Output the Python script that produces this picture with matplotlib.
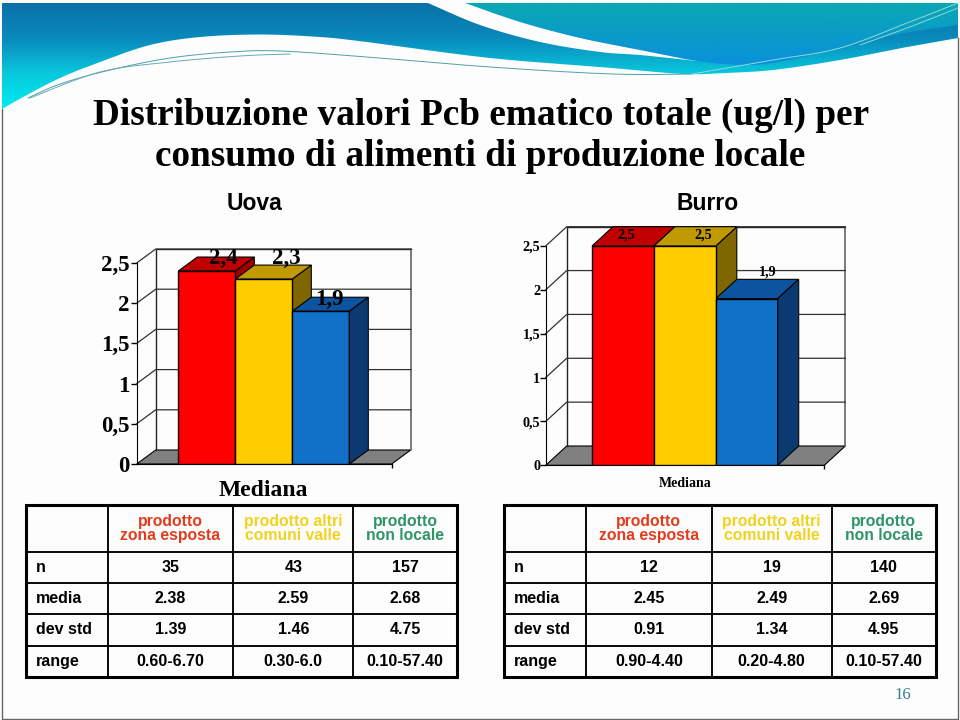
"""
Pcb ematico slide: two fake-3D bar charts with their tables under a swoosh header
"""

import numpy as np
from matplotlib import pyplot as plt
from matplotlib.patches import Polygon, PathPatch, Rectangle
from matplotlib.path import Path
from matplotlib.colors import LinearSegmentedColormap

W, H = 960, 720

series_names = ["prodotto\nzona esposta", "prodotto altri\ncomuni valle", "prodotto\nnon locale"]
row_names = ["n", "media", "dev std", "range"]
y_ticks = [0, 0.5, 1, 1.5, 2, 2.5]
y_tick_labels = ["0", "0,5", "1", "1,5", "2", "2,5"]

uova_values = [2.4, 2.3, 1.9]
uova_labels = ["2,4", "2,3", "1,9"]
uova_n = ["35", "43", "157"]
uova_media = ["2.38", "2.59", "2.68"]
uova_dev = ["1.39", "1.46", "4.75"]
uova_range = ["0.60-6.70", "0.30-6.0", "0.10-57.40"]

burro_values = [2.5, 2.5, 1.9]
burro_labels = ["2,5", "2,5", "1,9"]
burro_n = ["12", "19", "140"]
burro_media = ["2.45", "2.49", "2.69"]
burro_dev = ["0.91", "1.34", "4.95"]
burro_range = ["0.90-4.40", "0.20-4.80", "0.10-57.40"]

front_colors = ["#ff0000", "#ffcc00", "#1170c8"]
top_colors = ["#c00000", "#c09a00", "#0d54a0"]
side_colors = ["#a00000", "#806600", "#0b3a70"]
header_colors = ["#e23c1c", "#f2d21e", "#2f9468"]


def px_axes(fig, left, top, right, bottom, **kw):
    return fig.add_axes([left / W, 1 - bottom / H, (right - left) / W, (bottom - top) / H], **kw)


def smooth(points, n=24):
    # catmull-rom through the outline points, header decoration only
    pts = np.array([points[0]] + list(points) + [points[-1]], dtype=float)
    out = []
    for i in range(1, len(pts) - 2):
        p0, p1, p2, p3 = pts[i - 1], pts[i], pts[i + 1], pts[i + 2]
        for t in np.linspace(0, 1, n, endpoint=False):
            out.append(0.5 * (2 * p1 + (p2 - p0) * t + (2 * p0 - 5 * p1 + 4 * p2 - p3) * t ** 2
                              + (3 * p1 - p0 - 3 * p2 + p3) * t ** 3))
    out.append(pts[-2])
    return np.array(out)


def gradient_shape(ax, outline, colors, y_top, y_bottom):
    cmap = LinearSegmentedColormap.from_list("g", colors)
    grad = np.linspace(0, 1, 256)[:, None]
    im = ax.imshow(grad, cmap=cmap, aspect="auto", extent=(0, W, y_bottom, y_top), origin="upper")
    patch = PathPatch(Path(np.vstack([outline, outline[:1]])), fc="none", ec="none", transform=ax.transData)
    ax.add_patch(patch)
    im.set_clip_path(patch)


def draw_background(ax):
    lower = smooth([(2, 109), (25, 96), (60, 78), (100, 62), (150, 45), (200, 37), (260, 34.5), (320, 37),
                    (367, 42), (490, 58), (612, 68), (683, 74), (723, 73), (773, 70), (840, 60),
                    (907, 47), (958, 38)])
    upper_left = smooth([(428, 3), (480, 25), (540, 42), (600, 52), (640, 55), (697, 61)])
    left = np.vstack([[(2, 3)], upper_left, [(958, 3)], lower[::-1]])
    gradient_shape(ax, left, ["#0a70a8", "#0a8abc", "#08c8dc", "#00ecf2"], 3, 109)

    right_edge = smooth([(465, 3), (520, 22), (580, 38), (640, 50), (697, 61), (747, 65), (790, 60),
                         (857, 43), (910, 32), (958, 25)])
    right = np.vstack([right_edge, [(958, 3)]])
    gradient_shape(ax, right, ["#0aa8b4", "#0a9cc8", "#0a90dc"], 3, 65)

    for pts, col in (([(28, 98), (60, 84), (110, 70), (170, 58), (230, 52), (280, 51), (367, 57), (490, 67),
                       (612, 74), (692, 74)], "#4f9fa8"),
                     ([(30, 98), (100, 72), (170, 62), (240, 56), (290, 54)], "#6aa8b8"),
                     ([(692, 74), (773, 60), (840, 48), (907, 23), (958, 3)], "#8fd8d8"),
                     ([(860, 45), (907, 28), (958, 8)], "#8fd8d8")):
        line = smooth(pts)
        ax.plot(line[:, 0], line[:, 1], color=col, lw=0.7)

    ax.plot([2, 2, 958, 958], [109, 719, 719, 38], color="#666666", lw=1)
    ax.set_xlim(0, W)
    ax.set_ylim(H, 0)
    ax.axis("off")


def draw_chart(fig, geom, values, labels, tick_size, tick_pad, xlabel_size, label_dx, label_dy, xlabel_y):
    x0, x1, y0, y25, dx, dy, bar_left, bar_w = geom
    unit = (y0 - y25) / 2.5
    ax = px_axes(fig, x0, y25 - dy, x1 + dx, y0)
    ax.patch.set_alpha(0)
    # x data unit is one bar, y data unit is the chart value
    xmin = (x0 - bar_left) / bar_w - 0.5
    xmax = (x1 + dx - bar_left) / bar_w - 0.5
    ax.set_xlim(xmin, xmax)
    ax.set_ylim(0, 2.5 + dy / unit)
    ddx, ddy = dx / bar_w, dy / unit
    xright = xmax - ddx

    ax.add_patch(Polygon([(xmin, 0), (xmin + ddx, ddy), (xmax, ddy), (xright, 0)],
                         fc="#808080", ec="black", lw=0.8, clip_on=False))
    ax.plot([xmin + ddx, xmin + ddx, xmax], [ddy, 2.5 + ddy, 2.5 + ddy], color="#222222", lw=1, clip_on=False)
    ax.plot([xmax, xmax], [ddy, 2.5 + ddy], color="#555555", lw=1.1, clip_on=False)
    for t in y_ticks[1:]:
        ax.plot([xmin, xmin + ddx, xmax], [t, t + ddy, t + ddy], color="#333333", lw=0.9, clip_on=False)

    xs = np.arange(len(values))
    ax.bar(xs, values, width=1, color=front_colors, edgecolor="black", lw=1, zorder=3)
    for i, v in enumerate(values):
        ax.add_patch(Polygon([(i + 0.5, 0), (i + 0.5 + ddx, ddy), (i + 0.5 + ddx, v + ddy), (i + 0.5, v)],
                             fc=side_colors[i], ec="black", lw=0.8, zorder=2 + 0.1 * (2 - i) + (i == 2)))
        ax.add_patch(Polygon([(i - 0.5, v), (i - 0.5 + ddx, v + ddy), (i + 0.5 + ddx, v + ddy), (i + 0.5, v)],
                             fc=top_colors[i], ec="black", lw=0.8, zorder=2.5, clip_on=False))
        ax.annotate(labels[i], (i, v), xytext=(label_dx[i] * 0.72, label_dy[i] * 0.72), textcoords="offset points",
                    ha="center", va="center", zorder=5, fontsize=tick_size,
                    fontfamily="Liberation Serif", fontweight="bold", annotation_clip=False)

    for s in ("top", "right"):
        ax.spines[s].set_visible(False)
    ax.spines["left"].set_bounds(0, 2.5)
    ax.spines["bottom"].set_bounds(xmin, xright)
    ax.set_yticks(y_ticks, y_tick_labels, fontsize=tick_size, fontfamily="Liberation Serif", fontweight="bold")
    ax.set_xticks([xright], [""])
    ax.tick_params(axis="y", length=4, width=1, pad=tick_pad)
    ax.tick_params(axis="x", length=3, width=1)
    ax.annotate("Mediana", (1, 0), xytext=(0, -xlabel_y * 0.72), textcoords="offset points", ha="center", va="center",
                fontsize=xlabel_size, fontfamily="Liberation Serif", fontweight="bold", annotation_clip=False)
    return ax


def draw_table(fig, left, col_edges, rows):
    top, bottom = 505, 677
    right = col_edges[-1]
    ax = px_axes(fig, left, top, right, bottom)
    ax.axis("off")
    cells = [["", *series_names]] + [[name, *vals] for name, vals in zip(row_names, rows)]
    edges = [left] + col_edges
    widths = [(b - a) / (right - left) for a, b in zip(edges[:-1], edges[1:])]
    tb = ax.table(cellText=cells, colWidths=widths, loc="center", bbox=[0, 0, 1, 1], cellLoc="center")
    tb.auto_set_font_size(False)
    heights = [47, 31, 31, 31.5, 31.5]
    for (r, c), cell in tb.get_celld().items():
        cell.set_height(heights[r] / (bottom - top))
        cell.set_linewidth(1.1)
        cell.set_edgecolor("black")
        cell.set_facecolor("none")
        txt = cell.get_text()
        txt.set_fontfamily("Liberation Sans")
        txt.set_fontweight("bold")
        txt.set_fontsize(11.5)
        if r == 0 and c > 0:
            txt.set_color(header_colors[c - 1])
            txt.set_fontsize(11.3)
            txt.set_linespacing(0.85)
        if c == 0:
            txt.set_horizontalalignment("left")
            cell.PAD = 0.12
    ax.add_patch(Rectangle((0, 0), 1, 1, transform=ax.transAxes, fc="none", ec="black", lw=2.2,
                           clip_on=False, zorder=10))


if __name__ == "__main__":

    fig = plt.figure(figsize=(9.6, 7.2), dpi=100, facecolor="#fdfdfd")
    bg = fig.add_axes([0, 0, 1, 1])
    draw_background(bg)

    serif = "Liberation Serif"
    bg.text(481, 115, "Distribuzione valori Pcb ematico totale (ug/l) per", ha="center", va="center",
            fontsize=26.8, fontfamily=serif, fontweight="bold")
    bg.text(480, 156, "consumo di alimenti di produzione locale", ha="center", va="center",
            fontsize=26.8, fontfamily=serif, fontweight="bold")
    bg.text(254, 204, "Uova", ha="center", va="center", fontsize=16.5, fontfamily="Liberation Sans", fontweight="bold")
    bg.text(708, 204, "Burro", ha="center", va="center", fontsize=16.5, fontfamily="Liberation Sans", fontweight="bold")
    bg.text(903, 695, "16", ha="center", va="center", fontsize=12, fontfamily=serif, color="#2f7f90")

    draw_chart(fig, (136.7, 391.7, 464, 263, 19, 14, 178.3, 57), uova_values, uova_labels, 16.5, 1, 17,
               [17, 23, 9], [13, 21, 12], 26)
    draw_chart(fig, (545.7, 824.3, 465.3, 246, 21, 19.3, 592, 61.9), burro_values, burro_labels, 10.2, 0, 10,
               [3, 18, 21], [11, 11, 27], 18)

    draw_table(fig, 25.7, [107.7, 233.3, 353.3, 457.3], [uova_n, uova_media, uova_dev, uova_range])
    draw_table(fig, 504, [586, 711.7, 831.7, 935.7], [burro_n, burro_media, burro_dev, burro_range])

    fig.savefig("out.png", dpi=100, facecolor=fig.get_facecolor())
